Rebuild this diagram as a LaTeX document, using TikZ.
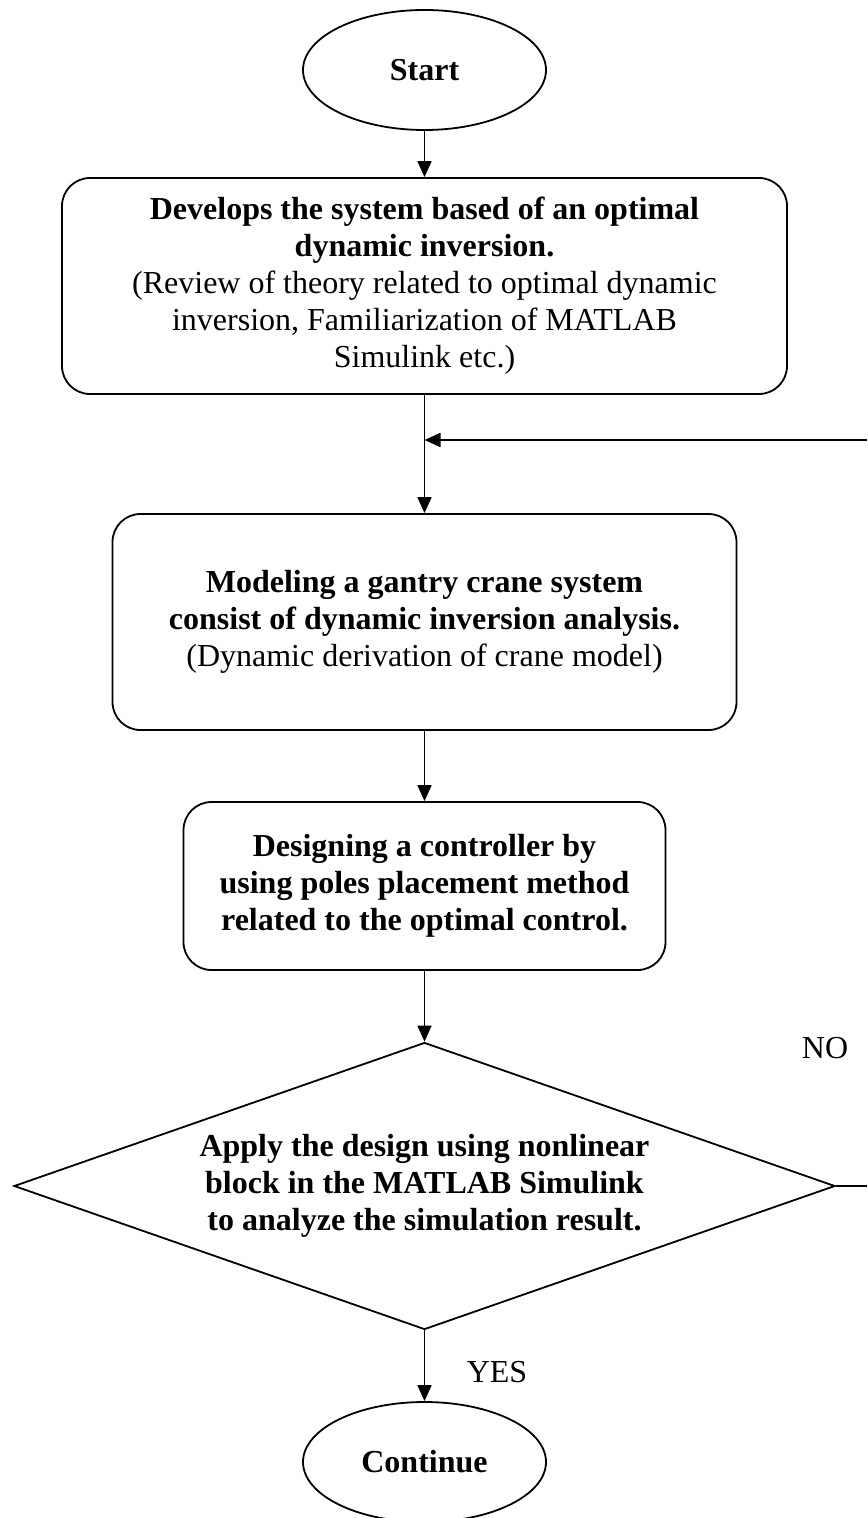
\documentclass[tikz,border=0pt]{standalone}
\usepackage{fontspec}
\setmainfont{Liberation Serif}
\usetikzlibrary{shapes.geometric,arrows.meta}
\newcommand{\chartfont}{\fontsize{16}{18.5}\selectfont}
\tikzset{
  flow/.style={-{Triangle[length=8pt,width=7pt]},line width=0.9pt},
  link/.style={line width=0.9pt},
  terminal/.style={ellipse,draw,line width=0.9pt,minimum width=121.5pt,minimum height=60pt,inner sep=0pt,font=\chartfont\bfseries},
  stepbox/.style={rectangle,rounded corners=14pt,draw,line width=0.9pt,align=center,inner sep=0pt,font=\chartfont},
  decision/.style={diamond,aspect=2.86,draw,line width=0.9pt,minimum width=410.5pt,minimum height=143.5pt,inner sep=0pt,align=center,font=\chartfont\bfseries}
}

\begin{document}
\begin{tikzpicture}[x=0.5pt,y=-0.5pt]
    \useasboundingbox (0,0) rectangle (867,1518);
    \node[terminal] (start) at (424.5,70) {Start};
    \node[stepbox,minimum width=362.5pt,minimum height=108pt] (develop) at (424.5,286)
      {\textbf{Develops the system based of an optimal}\\
       \textbf{dynamic inversion.}\\
       (Review of theory related to optimal dynamic\\
       inversion, Familiarization of MATLAB\\
       Simulink etc.)};
    \node[stepbox,minimum width=312pt,minimum height=108pt] (model) at (424.5,622)
      {\textbf{Modeling a gantry crane system}\\
       \textbf{consist of dynamic inversion analysis.}\\
       (Dynamic derivation of crane model)};
    \node[stepbox,minimum width=241pt,minimum height=84pt,font=\chartfont\bfseries] (design) at (424.5,886)
      {Designing a controller by\\
       using poles placement method\\
       related to the optimal control.};
    \node[decision] (apply) at (424.5,1186)
      {Apply the design using nonlinear\\
       block in the MATLAB Simulink\\
       to analyze the simulation result.};
    \node[terminal] (cont) at (424.5,1462) {Continue};
    \node[font=\chartfont] (no) at (825,1048) {NO};
    \node[font=\chartfont] (yes) at (497,1372) {YES};
    % main flow
    \foreach \a/\b in {start/develop,develop/model,model/design,design/apply,apply/cont}
      \draw[flow] (\a.south) -- (\b.north);
    % NO branch runs off to the right and comes back above the model box
    \coordinate (backout) at (867,1186);
    \coordinate (backin) at (867,440);
    \draw[link] (apply.east) -- (backout);
    \draw[flow] (backin) -- (backin -| develop.south);
\end{tikzpicture}
\end{document}
